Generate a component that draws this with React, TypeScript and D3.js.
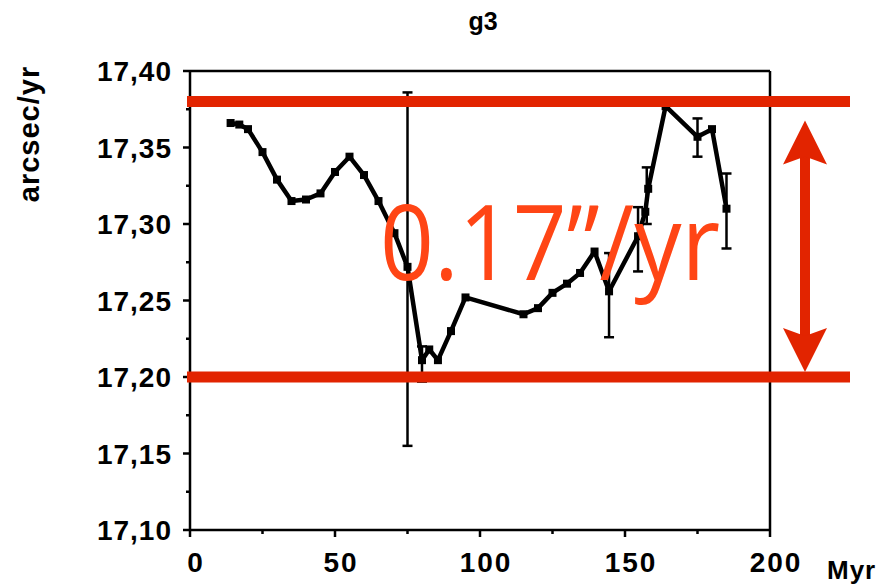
import React from "react";
import * as d3 from "d3";

const ages = [14, 17, 20, 25, 30, 35, 40, 45, 50, 55, 60, 65, 70.5, 75, 80, 82.5, 85.5, 90, 95, 115, 120, 125, 130, 134.5, 139.5, 144.5, 154.5, 157, 158, 164, 175, 180, 185];
const g3Values = [17.366, 17.365, 17.362, 17.347, 17.329, 17.315, 17.316, 17.32, 17.334, 17.344, 17.332, 17.315, 17.294, 17.272, 17.211, 17.218, 17.211, 17.23, 17.252, 17.241, 17.245, 17.255, 17.261, 17.268, 17.282, 17.256, 17.292, 17.308, 17.323, 17.377, 17.357, 17.362, 17.31];

const errAges = [75, 80, 144.5, 154.5, 157.5, 175, 185];
const errLow = [17.155, 17.197, 17.226, 17.269, 17.3, 17.344, 17.284];
const errHigh = [17.386, 17.22, 17.281, 17.311, 17.337, 17.369, 17.333];

const xTicks = [0, 50, 100, 150, 200];
const yTicks = [17.1, 17.15, 17.2, 17.25, 17.3, 17.35, 17.4];
const bandValues = [17.38, 17.2];
const annotation = "0.17\u201D/yr";

export default function App() {
  const x = d3.scaleLinear().domain([0, 200]).range([190, 770]);
  const y = d3.scaleLinear().domain([17.1, 17.4]).range([530, 71]);
  const pts: [number, number][] = ages.map((a, i) => [a, g3Values[i]]);
  const line = d3.line<[number, number]>().x((d) => x(d[0])).y((d) => y(d[1]));
  const font = "'Liberation Sans', Arial, sans-serif";
  const red = "#e22400";
  const minorY = d3.range(17.125, 17.4, 0.05);
  const minorX = [25, 75, 125, 175];
  const arrowX = 805;
  const aTop = y(bandValues[0]) + 19;
  const aBot = y(bandValues[1]) - 5;
  return (
    <svg width={888} height={587} style={{ display: "block", position: "absolute", left: 0, top: 0 }}>
      <rect width={888} height={587} fill="#fff" />
      <text x={483} y={30} textAnchor="middle" fontFamily={font} fontWeight="bold" fontSize={25}>g3</text>
      <text transform="translate(39,134) rotate(-90)" textAnchor="middle" fontFamily={font} fontWeight="bold" fontSize={29} letterSpacing={1}>arcsec/yr</text>
      {/* frame */}
      <g stroke="#000" strokeWidth={2.5} fill="none">
        <line x1={x(0)} x2={x(200)} y1={y(17.4)} y2={y(17.4)} />
        <line x1={x(200)} x2={x(200)} y1={y(17.4)} y2={y(17.1)} />
        <line x1={x(0)} x2={x(200)} y1={y(17.1)} y2={y(17.1)} />
        <line x1={x(0)} x2={x(0)} y1={y(17.4)} y2={y(17.1)} />
        {yTicks.map((t) => (
          <line key={"yt" + t} x1={x(0) - 7} x2={x(0)} y1={y(t)} y2={y(t)} />
        ))}
        {minorY.map((t) => (
          <line key={"ym" + t} x1={x(0) - 4} x2={x(0)} y1={y(t)} y2={y(t)} />
        ))}
        {xTicks.map((t) => (
          <line key={"xt" + t} x1={x(t)} x2={x(t)} y1={y(17.1)} y2={y(17.1) + 7} />
        ))}
        {minorX.map((t) => (
          <line key={"xm" + t} x1={x(t)} x2={x(t)} y1={y(17.1)} y2={y(17.1) + 4} />
        ))}
      </g>
      {yTicks.map((t) => (
        <text key={"yl" + t} x={172} y={y(t) + 10} textAnchor="end" fontFamily={font} fontWeight="bold" fontSize={28} letterSpacing={1}>
          {d3.format(".2f")(t).replace(".", ",")}
        </text>
      ))}
      {xTicks.map((t) => (
        <text key={"xl" + t} x={x(t) + 6} y={572} textAnchor="middle" fontFamily={font} fontWeight="bold" fontSize={28} letterSpacing={2}>
          {t}
        </text>
      ))}
      <text x={827} y={579} fontFamily={font} fontWeight="bold" fontSize={26} letterSpacing={1}>Myr</text>
      {/* error bars */}
      <g stroke="#000" strokeWidth={2.5}>
        {errAges.map((a, i) => (
          <g key={"e" + i}>
            <line x1={x(a)} x2={x(a)} y1={y(errLow[i])} y2={y(errHigh[i])} />
            <line x1={x(a) - 5} x2={x(a) + 5} y1={y(errLow[i])} y2={y(errLow[i])} />
            <line x1={x(a) - 5} x2={x(a) + 5} y1={y(errHigh[i])} y2={y(errHigh[i])} />
          </g>
        ))}
      </g>
      <path d={line(pts) || ""} fill="none" stroke="#000" strokeWidth={4.5} strokeLinejoin="round" />
      {pts.map((p, i) => (
        <rect key={"m" + i} x={x(p[0]) - 4} y={y(p[1]) - 4} width={8} height={8} fill="#000" />
      ))}
      {/* annotation */}
      {bandValues.map((v) => (
        <line key={"b" + v} x1={187} x2={850} y1={y(v)} y2={y(v)} stroke={red} strokeWidth={11} />
      ))}
      <line x1={arrowX} x2={arrowX} y1={aTop + 30} y2={aBot - 30} stroke={red} strokeWidth={10} />
      <path d={`M${arrowX},${aTop} L${arrowX + 22},${aTop + 44} L${arrowX},${aTop + 36} L${arrowX - 22},${aTop + 44} Z`} fill={red} />
      <path d={`M${arrowX},${aBot} L${arrowX + 22},${aBot - 44} L${arrowX},${aBot - 36} L${arrowX - 22},${aBot - 44} Z`} fill={red} />
      <text x={380} y={280} fontFamily="'Open Sans', sans-serif" fontSize={104} fill="#ff4515" textLength={340} lengthAdjust="spacingAndGlyphs">
        {annotation}
      </text>
    </svg>
  );
}
